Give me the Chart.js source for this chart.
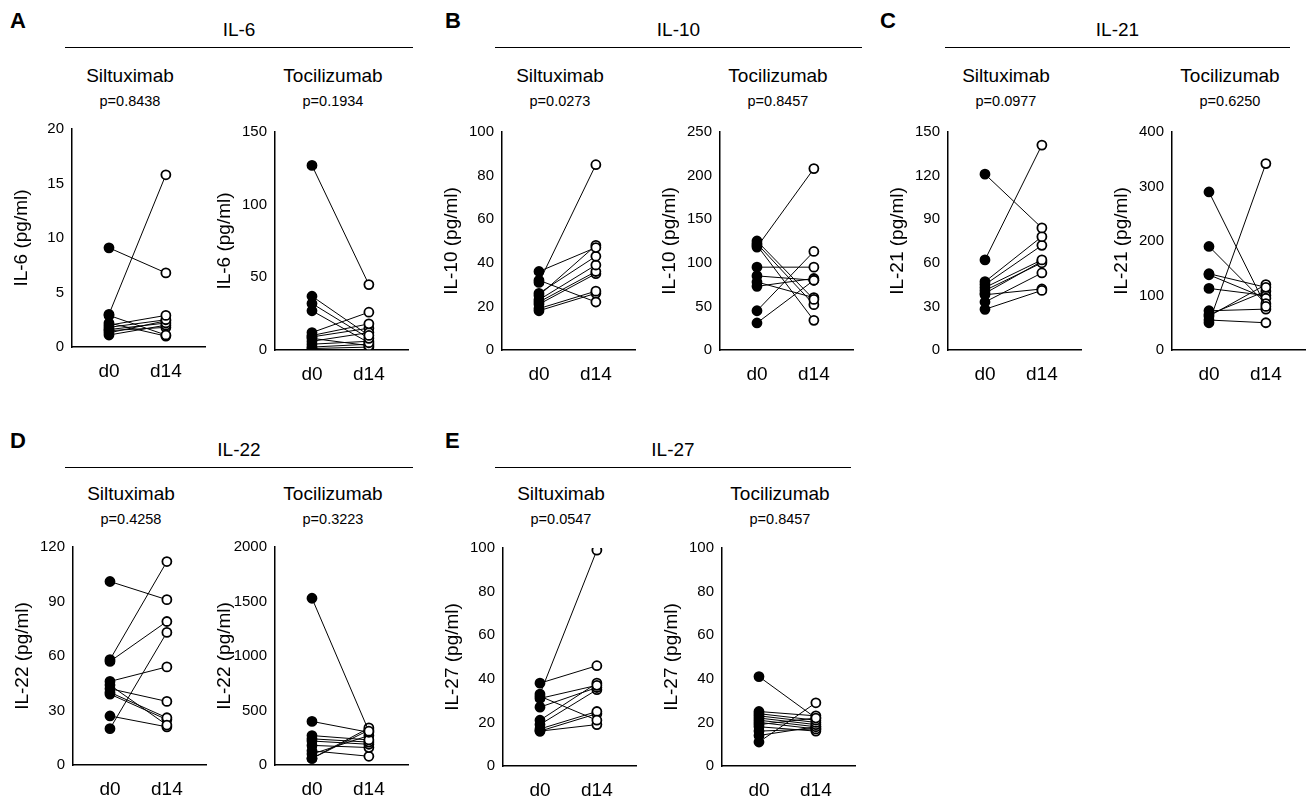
<!DOCTYPE html>
<html lang="en">
<head>
<meta charset="UTF-8">
<title>Cytokines d0 vs d14</title>
<script src="https://cdn.jsdelivr.net/npm/chart.js"></script>
<style>
  body { margin: 0; width: 1316px; height: 800px; background: #fff; position: relative; font-family: "Liberation Sans", Arial, sans-serif; color: #000; overflow: hidden; }
  .txt { position: absolute; white-space: nowrap; transform: translateX(-50%); }
  .letter { position: absolute; font-weight: bold; font-size: 22px; }
  .head { font-size: 19px; }
  .sub { font-size: 19px; }
  .p { font-size: 14.5px; }
  .rule { position: absolute; height: 1px; background: #000; }
  canvas { position: absolute; }
</style>
</head>
<body>
<script>
// pairs: [d0, d14]
const il6Silt = [[9.1,6.8],[3.0,15.8],[2.9,1.1],[2.2,1.0],[2.0,2.9],[1.8,2.5],[1.6,2.2],[1.3,2.4],[1.1,2.0],[1.5,1.8]];
const il6Toci = [[127,45],[37,10],[32,8],[27,5],[12,26],[10,18],[8,3],[6,12],[4,6],[2,4],[1,2],[9,15]];
const il10Silt = [[36,47],[32,22],[31,85],[26,43],[25,48],[23,39],[22,36],[21,35],[19,27],[18,26]];
const il10Toci = [[125,58],[122,52],[120,34],[118,208],[95,95],[85,80],[78,60],[73,82],[45,113],[31,80]];
const il21Silt = [[121,84],[62,141],[47,78],[45,72],[43,62],[41,60],[39,61],[33,53],[28,41],[38,42]];
const il21Toci = [[290,80],[190,85],[140,115],[138,95],[113,100],[72,75],[62,120],[55,50],[50,342],[65,108]];
const il22Silt = [[101,91],[58,112],[57,79],[46,54],[44,22],[42,35],[40,26],[39,25],[27,21],[20,73]];
const il22Toci = [[1530,310],[400,300],[270,230],[240,210],[220,190],[180,160],[130,80],[60,340],[100,270],[60,320]];
const il27Silt = [[38,46],[33,99],[32,21],[31,37],[27,36],[21,38],[19,35],[17,25],[16,24],[16,19]];
const il27Toci = [[41,22],[25,23],[24,21],[23,20],[22,19],[21,18],[20,17],[18,16],[16,17],[14,18],[11,29],[19,22]];
const timeLabels = ['d0', 'd14'];

// panel layout: axis x, plot top, data, y max, y step, y title
const panels = [
  { ax: 72,   top: 127, data: il6Silt,  max: 20,   step: 5,   title: 'IL-6 (pg/ml)' },
  { ax: 275,  top: 130, data: il6Toci,  max: 150,  step: 50,  title: 'IL-6 (pg/ml)' },
  { ax: 502,  top: 130, data: il10Silt, max: 100,  step: 20,  title: 'IL-10 (pg/ml)' },
  { ax: 720,  top: 130, data: il10Toci, max: 250,  step: 50,  title: 'IL-10 (pg/ml)' },
  { ax: 948,  top: 130, data: il21Silt, max: 150,  step: 30,  title: 'IL-21 (pg/ml)' },
  { ax: 1172, top: 130, data: il21Toci, max: 400,  step: 100, title: 'IL-21 (pg/ml)' },
  { ax: 73,   top: 545, data: il22Silt, max: 120,  step: 30,  title: 'IL-22 (pg/ml)' },
  { ax: 275,  top: 545, data: il22Toci, max: 2000, step: 500, title: 'IL-22 (pg/ml)' },
  { ax: 503,  top: 546, data: il27Silt, max: 100,  step: 20,  title: 'IL-27 (pg/ml)' },
  { ax: 722,  top: 546, data: il27Toci, max: 100,  step: 20,  title: 'IL-27 (pg/ml)' }
];

const headers = [
  { letter: 'A', lx: 10,  ly: 8,   name: 'IL-6',  x1: 65,  x2: 413, y: 47 },
  { letter: 'B', lx: 445, ly: 8,   name: 'IL-10', x1: 495, x2: 862, y: 47 },
  { letter: 'C', lx: 880, ly: 8,   name: 'IL-21', x1: 945, x2: 1290, y: 47 },
  { letter: 'D', lx: 10,  ly: 428, name: 'IL-22', x1: 65,  x2: 413, y: 467 },
  { letter: 'E', lx: 445, ly: 428, name: 'IL-27', x1: 495, x2: 851, y: 467 }
];
const pValues = ['p=0.8438', 'p=0.1934', 'p=0.0273', 'p=0.8457', 'p=0.0977', 'p=0.6250', 'p=0.4258', 'p=0.3223', 'p=0.0547', 'p=0.8457'];
const drugs = ['Siltuximab', 'Tocilizumab'];

function addText(cls, text, x, y) {
  const d = document.createElement('div');
  d.className = 'txt ' + cls;
  d.textContent = text;
  d.style.left = x + 'px';
  d.style.top = y + 'px';
  document.body.appendChild(d);
}

headers.forEach(h => {
  const l = document.createElement('div');
  l.className = 'letter';
  l.textContent = h.letter;
  l.style.left = h.lx + 'px';
  l.style.top = h.ly + 'px';
  document.body.appendChild(l);
  addText('head', h.name, (h.x1 + h.x2) / 2, h.y - 28);
  const r = document.createElement('div');
  r.className = 'rule';
  r.style.left = h.x1 + 'px';
  r.style.width = (h.x2 - h.x1) + 'px';
  r.style.top = h.y + 'px';
  document.body.appendChild(r);
});

const YW = 62, PADT = 10, PH = 220, XH = 46;
panels.forEach((p, i) => {
  const rowTop = p.top < 300 ? 0 : 418;
  addText('sub', drugs[i % 2], p.ax + 58, rowTop + 65);
  addText('p', pValues[i], p.ax + 58, rowTop + 93);

  const c = document.createElement('canvas');
  const w = YW + 140, h = PADT + PH + XH;
  c.style.left = (p.ax - YW) + 'px';
  c.style.top = (p.top - PADT) + 'px';
  c.style.width = w + 'px';
  c.style.height = h + 'px';
  c.width = w; c.height = h;
  document.body.appendChild(c);

  const datasets = p.data.map(pair => ({
    data: [{ x: 0, y: pair[0] }, { x: 1, y: pair[1] }],
    showLine: true,
    borderColor: '#000',
    borderWidth: 1,
    pointRadius: 4.5,
    pointBorderWidth: 1.8,
    pointBorderColor: '#000',
    pointBackgroundColor: ['#000', '#fff']
  }));

  new Chart(c, {
    type: 'scatter',
    data: { datasets },
    options: {
      responsive: false,
      animation: false,
      layout: { padding: { top: PADT, right: 2, left: 0, bottom: 0 } },
      plugins: { legend: { display: false }, tooltip: { enabled: false } },
      scales: {
        x: {
          type: 'linear', min: -0.65, max: 1.7,
          afterBuildTicks: s => { s.ticks = [{ value: 0 }, { value: 1 }]; },
          afterFit: s => { s.height = XH; },
          grid: { display: false, drawTicks: true, tickLength: 6, tickColor: '#000' },
          border: { color: '#000', width: 1.5 },
          ticks: { color: '#000', font: { size: 19, family: 'Liberation Sans' }, padding: 7,
                   callback: v => timeLabels[v] },
        },
        y: {
          min: 0, max: p.max,
          afterFit: s => { s.width = YW; },
          grid: { display: false, drawTicks: true, tickLength: 5, tickColor: '#000' },
          border: { color: '#000', width: 1.5 },
          ticks: { stepSize: p.step, color: '#000', font: { size: 15, family: 'Liberation Sans' }, padding: 3,
                   callback: v => String(v) },
          title: { display: true, text: p.title, color: '#000', font: { size: 19, family: 'Liberation Sans' }, padding: 0 }
        }
      }
    }
  });
});
</script>
</body>
</html>
